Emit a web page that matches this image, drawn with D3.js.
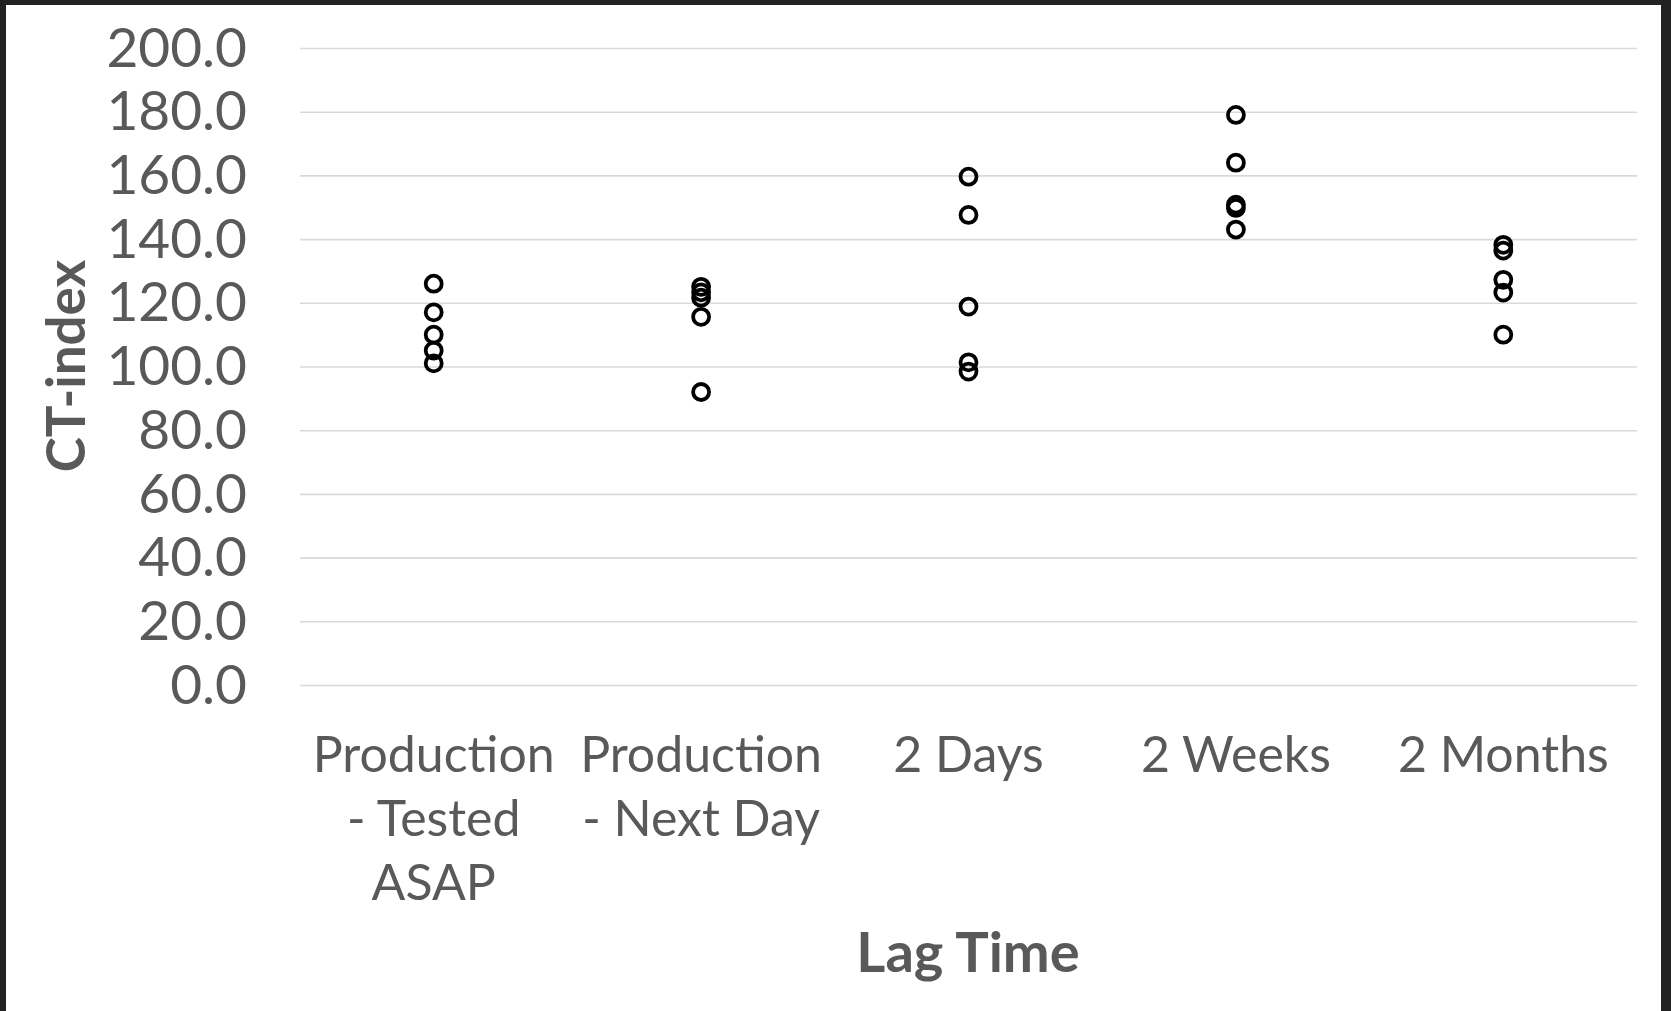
<!DOCTYPE html>
<html>
<head>
<meta charset="utf-8">
<script src="https://cdn.jsdelivr.net/npm/d3@7"></script>
<style>
  html, body { margin: 0; padding: 0; background: #222; }
  svg { display: block; }
</style>
</head>
<body>
<svg id="chart"></svg>
<script>
// Dữ liệu
const categories = ["Production - Tested ASAP", "Production - Next Day", "2 Days", "2 Weeks", "2 Months"];
const categoryLines = [
    ["Production", "- Tested", "ASAP"],
    ["Production", "- Next Day"],
    ["2 Days"],
    ["2 Weeks"],
    ["2 Months"]
];
const testedAsap = [126, 117, 110, 105, 101];
const nextDay = [125, 123.3, 121.6, 115.6, 92];
const twoDays = [159.6, 147.6, 118.8, 101.3, 98.4];
const twoWeeks = [179, 164, 150.8, 149.8, 143];
const twoMonths = [138.2, 136.4, 127.2, 123.2, 110];
const seriesValues = [testedAsap, nextDay, twoDays, twoWeeks, twoMonths];
const yTicks = [0, 20, 40, 60, 80, 100, 120, 140, 160, 180, 200];

const W = 1671, H = 1011;
const textColor = "#595959";
const font = "Lato, 'Open Sans', sans-serif";

const svg = d3.select("#chart").attr("width", W).attr("height", H);

// Khung nền
svg.append("rect").attr("width", W).attr("height", H).attr("fill", "#222");
svg.append("rect").attr("x", 6).attr("y", 5).attr("width", 1655).attr("height", H).attr("fill", "#fff");

const xScale = d3.scaleBand().domain(categories).range([300, 1637]);
const yScale = d3.scaleLinear().domain([0, 200]).range([685, 48]);

// Trục Y + lưới
const yAxis = svg.append("g")
    .attr("transform", "translate(300,0)")
    .call(d3.axisLeft(yScale).tickValues(yTicks).tickSize(-(1637 - 300)).tickPadding(53).tickFormat(d3.format(".1f")));
yAxis.select(".domain").remove();
yAxis.selectAll(".tick line").attr("stroke", "#d9d9d9").attr("stroke-width", 1.6);
yAxis.selectAll(".tick text")
    .attr("fill", textColor)
    .style("font-family", font)
    .style("font-size", "55px")
    .attr("dy", "0.33em");

// Nhãn trục X
const xLabels = svg.append("g");
categories.forEach((c, i) => {
    const t = xLabels.append("text")
        .attr("x", xScale(c) + xScale.bandwidth() / 2)
        .attr("y", 772)
        .attr("text-anchor", "middle")
        .attr("fill", textColor)
        .style("font-family", font)
        .style("font-size", "50px");
    categoryLines[i].forEach((line, j) => {
        t.append("tspan")
            .attr("x", xScale(c) + xScale.bandwidth() / 2)
            .attr("y", 772 + j * 64)
            .text(line);
    });
});

// Điểm
categories.forEach((c, i) => {
    svg.append("g").selectAll("circle")
        .data(seriesValues[i])
        .enter().append("circle")
        .attr("cx", xScale(c) + xScale.bandwidth() / 2)
        .attr("cy", d => yScale(d))
        .attr("r", 8)
        .attr("fill", "none")
        .attr("stroke", "#000")
        .attr("stroke-width", 3.8);
});

// Tiêu đề trục
svg.append("text")
    .attr("transform", "translate(85,366) rotate(-90)")
    .attr("text-anchor", "middle")
    .attr("fill", textColor)
    .style("font-family", font)
    .style("font-weight", "bold")
    .style("font-size", "53px")
    .text("CT-index");

svg.append("text")
    .attr("x", 968)
    .attr("y", 972)
    .attr("text-anchor", "middle")
    .attr("fill", textColor)
    .style("font-family", font)
    .style("font-weight", "bold")
    .style("font-size", "56px")
    .text("Lag Time");
</script>
</body>
</html>
